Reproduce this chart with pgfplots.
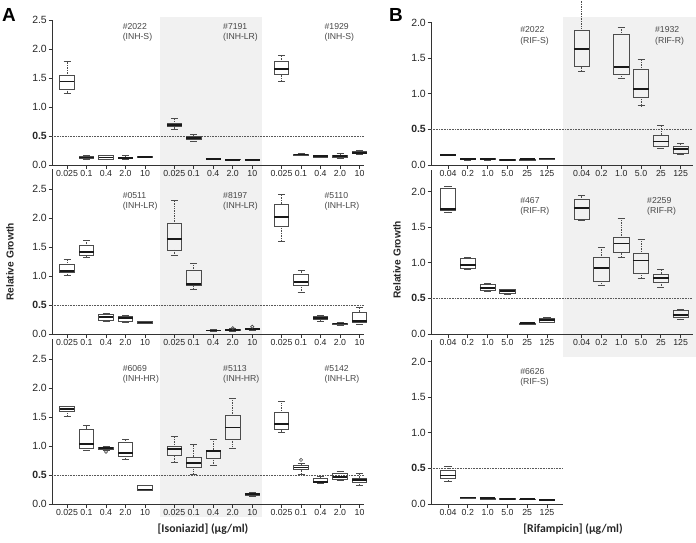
\documentclass[border=0pt]{standalone}
\usepackage{fontspec}
\setmainfont{Liberation Sans}
\newfontfamily\carl{Carlito}
\usepackage{pgfplots}
\pgfplotsset{compat=1.18}
\usepgfplotslibrary{statistics}

\tikzset{glab/.style={anchor=north west, inner sep=0pt, align=left, font=\fontsize{8.7}{10.2}\selectfont, text=black!72}}
\pgfplotsset{
 boxplot/draw direction=y,
 boxplot/draw/lower whisker/.code={
   \draw[densely dotted, black!70, line width=0.7bp] (boxplot box cs:\pgfplotsboxplotvalue{lower quartile},0.5) -- (boxplot box cs:\pgfplotsboxplotvalue{lower whisker},0.5);
   \draw[black!70, line width=0.7bp] (boxplot whisker cs:\pgfplotsboxplotvalue{lower whisker},0) -- (boxplot whisker cs:\pgfplotsboxplotvalue{lower whisker},1);
 },
 boxplot/draw/upper whisker/.code={
   \draw[densely dotted, black!70, line width=0.7bp] (boxplot box cs:\pgfplotsboxplotvalue{upper quartile},0.5) -- (boxplot box cs:\pgfplotsboxplotvalue{upper whisker},0.5);
   \draw[black!70, line width=0.7bp] (boxplot whisker cs:\pgfplotsboxplotvalue{upper whisker},0) -- (boxplot whisker cs:\pgfplotsboxplotvalue{upper whisker},1);
 },
 boxplot/every box/.style={draw=black!70, line width=0.75bp, fill=none},
 boxplot/every median/.style={draw=black!90, line width=1.8bp},
 boxplot/whisker extend=0.36,
 common/.style={anchor=south west, clip=false, axis lines=left,
   axis line style={-, black!80, line width=0.9bp},
   tick align=outside, major tick length=3.5bp,
   tick style={black!80, line width=0.8bp},
   xticklabel style={font=\fontsize{8.8}{9}\selectfont, text=black!85, inner sep=1bp, yshift=-1bp},
   yticklabel style={font=\fontsize{10.5}{11}\selectfont, text=black!85, inner sep=1.5bp}},
 rowA/.style={common, x=19.5bp, y=58bp, xmin=-0.77, xmax=15.25, ymin=0,
   xtick={0,1,2,3,4,5.5,6.5,7.5,8.5,9.5,11,12,13,14,15},
   xticklabels={0.025,0.1,0.4,2.0,10,0.025,0.1,0.4,2.0,10,0.025,0.1,0.4,2.0,10},
   ytick={0,0.5,1,1.5,2,2.5}, yticklabels={0.0,\textbf{0.5},1.0,1.5,2.0,2.5},
   boxplot/box extend=0.75},
 rowB/.style={common, x=19.8bp, y=71.3bp, xmin=-0.86, ymin=0,
   ytick={0,0.5,1,1.5,2}, yticklabels={0.0,\textbf{0.5},1.0,1.5,2.0},
   boxplot/box extend=0.78},
 refl/.style={densely dotted, black!65, line width=0.6bp},
 outl/.style={only marks, mark=o, mark size=1.6bp, black!70, mark options={line width=0.6bp}}
}
\newcommand\bx[6]{\addplot[boxplot prepared={draw position=#1, lower whisker=#2, lower quartile=#3, median=#4, upper quartile=#5, upper whisker=#6}] coordinates {};}

\begin{document}
\begin{tikzpicture}
\useasboundingbox (0,0) rectangle (696bp,-543bp);
\fill[gray!11] (160bp,-17bp) rectangle (262bp,-517bp);
\fill[gray!11] (563bp,-17bp) rectangle (696bp,-357bp);

% ---------------- Panel A row 1
\begin{axis}[rowA, at={(52bp,-165bp)}, ymax=2.5]
\addplot[refl] coordinates {(-0.77,0.5) (15.25,0.5)};
\bx{0}{1.24}{1.31}{1.44}{1.54}{1.78}
\bx{1}{0.10}{0.12}{0.13}{0.15}{0.16}
\bx{2}{0.09}{0.10}{0.13}{0.16}{0.17}
\bx{3}{0.10}{0.11}{0.12}{0.14}{0.16}
\bx{4}{0.13}{0.13}{0.14}{0.15}{0.15}
\bx{5.5}{0.61}{0.66}{0.69}{0.72}{0.80}
\bx{6.5}{0.41}{0.44}{0.47}{0.50}{0.53}
\bx{7.5}{0.10}{0.10}{0.11}{0.12}{0.12}
\bx{8.5}{0.09}{0.09}{0.09}{0.10}{0.10}
\bx{9.5}{0.08}{0.08}{0.09}{0.09}{0.09}
\bx{11}{1.45}{1.56}{1.66}{1.78}{1.89}
\bx{12}{0.16}{0.17}{0.18}{0.19}{0.20}
\bx{13}{0.13}{0.14}{0.15}{0.16}{0.17}
\bx{14}{0.12}{0.14}{0.15}{0.17}{0.20}
\bx{15}{0.18}{0.20}{0.21}{0.23}{0.26}
\node[glab] at (axis cs:2.85,2.45) {\#2022\\(INH-S)};
\node[glab] at (axis cs:8.0,2.45) {\#7191\\(INH-LR)};
\node[glab] at (axis cs:13.2,2.45) {\#1929\\(INH-S)};
\end{axis}

% ---------------- Panel A row 2
\begin{axis}[rowA, at={(52bp,-334bp)}, ymax=2.85]
\addplot[refl] coordinates {(-0.77,0.5) (15.25,0.5)};
\bx{0}{1.01}{1.07}{1.08}{1.20}{1.28}
\bx{1}{1.32}{1.35}{1.42}{1.52}{1.62}
\bx{2}{0.22}{0.24}{0.29}{0.34}{0.36}
\bx{3}{0.20}{0.21}{0.28}{0.30}{0.32}
\bx{4}{0.18}{0.19}{0.20}{0.21}{0.22}
\bx{5.5}{1.35}{1.45}{1.64}{1.90}{2.30}
\bx{6.5}{0.77}{0.83}{0.86}{1.09}{1.22}
\bx{7.5}{0.05}{0.06}{0.06}{0.07}{0.08}
\bx{8.5}{0.05}{0.06}{0.07}{0.08}{0.09}
\bx{9.5}{0.07}{0.08}{0.08}{0.09}{0.10}
\bx{11}{1.60}{1.86}{2.02}{2.24}{2.41}
\bx{12}{0.72}{0.84}{0.90}{1.02}{1.10}
\bx{13}{0.21}{0.25}{0.28}{0.31}{0.33}
\bx{14}{0.15}{0.16}{0.18}{0.19}{0.20}
\bx{15}{0.17}{0.20}{0.22}{0.38}{0.46}
\addplot[outl] coordinates {(8.5,0.10) (9.5,0.125)};
\node[glab] at (axis cs:2.85,2.45) {\#0511\\(INH-LR)};
\node[glab] at (axis cs:8.0,2.45) {\#8197\\(INH-LR)};
\node[glab] at (axis cs:13.2,2.45) {\#5110\\(INH-LR)};
\end{axis}

% ---------------- Panel A row 3
\begin{axis}[rowA, at={(52bp,-504bp)}, ymax=2.85]
\addplot[refl] coordinates {(-0.77,0.5) (15.25,0.5)};
\bx{0}{1.51}{1.60}{1.64}{1.68}{1.69}
\bx{1}{0.92}{0.96}{1.03}{1.29}{1.35}
\bx{2}{0.93}{0.94}{0.96}{0.97}{0.99}
\bx{3}{0.77}{0.82}{0.88}{1.06}{1.12}
\bx{4}{0.23}{0.24}{0.25}{0.32}{0.33}
\bx{5.5}{0.72}{0.83}{0.95}{0.99}{1.16}
\bx{6.5}{0.51}{0.63}{0.71}{0.81}{1.02}
\bx{7.5}{0.66}{0.79}{0.92}{0.93}{1.12}
\bx{8.5}{0.96}{1.12}{1.32}{1.52}{1.83}
\bx{9.5}{0.14}{0.15}{0.17}{0.19}{0.20}
\bx{11}{1.23}{1.28}{1.38}{1.58}{1.77}
\bx{12}{0.51}{0.59}{0.63}{0.67}{0.70}
\bx{13}{0.36}{0.37}{0.38}{0.45}{0.48}
\bx{14}{0.41}{0.43}{0.47}{0.52}{0.57}
\bx{15}{0.33}{0.38}{0.42}{0.45}{0.52}
\addplot[outl] coordinates {(2,0.90) (12,0.76)};
\node[glab] at (axis cs:2.85,2.4) {\#6069\\(INH-HR)};
\node[glab] at (axis cs:8.0,2.4) {\#5113\\(INH-HR)};
\node[glab] at (axis cs:13.2,2.4) {\#5142\\(INH-LR)};
\end{axis}

% ---------------- Panel B row 1
\begin{axis}[rowB, at={(431bp,-165bp)}, xmax=12.35, ymax=2.0,
  xtick={0,1,2,3,4,5,6.75,7.75,8.75,9.75,10.75,11.75},
  xticklabels={0.04,0.2,1.0,5.0,25,125,0.04,0.2,1.0,5.0,25,125}]
\addplot[refl] coordinates {(-0.86,0.5) (12.35,0.5)};
\bx{0}{0.13}{0.13}{0.14}{0.15}{0.15}
\bx{1}{0.07}{0.08}{0.08}{0.08}{0.09}
\bx{2}{0.07}{0.08}{0.08}{0.09}{0.09}
\bx{3}{0.07}{0.07}{0.07}{0.08}{0.08}
\bx{4}{0.07}{0.07}{0.08}{0.08}{0.08}
\bx{5}{0.08}{0.08}{0.09}{0.09}{0.09}
\bx{6.75}{1.32}{1.38}{1.63}{1.89}{2.33}
\bx{8.75}{1.21}{1.27}{1.37}{1.83}{1.93}
\bx{9.75}{0.83}{0.95}{1.07}{1.34}{1.48}
\bx{10.75}{0.23}{0.26}{0.33}{0.42}{0.55}
\bx{11.75}{0.15}{0.17}{0.22}{0.26}{0.31}
\node[glab] at (axis cs:3.64,1.94) {\#2022\\(RIF-S)};
\node[glab] at (axis cs:10.45,1.94) {\#1932\\(RIF-R)};
\end{axis}

% ---------------- Panel B row 2
\begin{axis}[rowB, at={(431bp,-334bp)}, xmax=12.35, ymax=2.3,
  xtick={0,1,2,3,4,5,6.75,7.75,8.75,9.75,10.75,11.75},
  xticklabels={0.04,0.2,1.0,5.0,25,125,0.04,0.2,1.0,5.0,25,125}]
\addplot[refl] coordinates {(-0.86,0.5) (12.35,0.5)};
\bx{0}{1.71}{1.74}{1.75}{2.04}{2.07}
\bx{1}{0.91}{0.92}{0.97}{1.06}{1.07}
\bx{2}{0.60}{0.61}{0.65}{0.69}{0.71}
\bx{3}{0.56}{0.57}{0.60}{0.62}{0.63}
\bx{4}{0.14}{0.14}{0.15}{0.15}{0.15}
\bx{5}{0.16}{0.17}{0.20}{0.22}{0.23}
\bx{6.75}{1.59}{1.61}{1.77}{1.89}{1.94}
\bx{7.75}{0.68}{0.74}{0.93}{1.07}{1.21}
\bx{8.75}{1.07}{1.14}{1.27}{1.35}{1.62}
\bx{9.75}{0.78}{0.85}{1.03}{1.13}{1.33}
\bx{10.75}{0.66}{0.73}{0.78}{0.84}{0.91}
\bx{11.75}{0.21}{0.24}{0.27}{0.33}{0.35}
\node[glab] at (axis cs:3.64,1.92) {\#467\\(RIF-R)};
\node[glab] at (axis cs:10.05,1.92) {\#2259\\(RIF-R)};
\end{axis}

% ---------------- Panel B row 3
\begin{axis}[rowB, at={(431bp,-504bp)}, xmax=5.8, ymax=2.3,
  xtick={0,1,2,3,4,5},
  xticklabels={0.04,0.2,1.0,5.0,25,125}]
\addplot[refl] coordinates {(-0.86,0.5) (5.8,0.5)};
\bx{0}{0.32}{0.36}{0.40}{0.47}{0.53}
\bx{1}{0.08}{0.08}{0.09}{0.10}{0.10}
\bx{2}{0.07}{0.07}{0.08}{0.08}{0.08}
\bx{3}{0.06}{0.07}{0.07}{0.08}{0.08}
\bx{4}{0.06}{0.06}{0.07}{0.07}{0.07}
\bx{5}{0.06}{0.06}{0.06}{0.07}{0.07}
\node[glab] at (axis cs:3.64,1.91) {\#6626\\(RIF-S)};
\end{axis}

\node[font=\fontsize{19}{19}\selectfont\bfseries] at (9bp,-15bp) {A};
\node[font=\fontsize{19}{19}\selectfont\bfseries] at (396bp,-15bp) {B};
\node[rotate=90, font=\fontsize{10.2}{12}\selectfont\bfseries, text=black!85] at (10bp,-262bp) {Relative Growth};
\node[rotate=90, font=\fontsize{10.2}{12}\selectfont\bfseries, text=black!85] at (397bp,-260bp) {Relative Growth};
\node[font=\carl\fontsize{11.8}{12}\selectfont\bfseries, text=black!85] at (203bp,-529bp) {[Isoniazid] (µg/ml)};
\node[font=\carl\fontsize{11.8}{12}\selectfont\bfseries, text=black!85] at (573bp,-529bp) {[Rifampicin] (µg/ml)};
\end{tikzpicture}
\end{document}
